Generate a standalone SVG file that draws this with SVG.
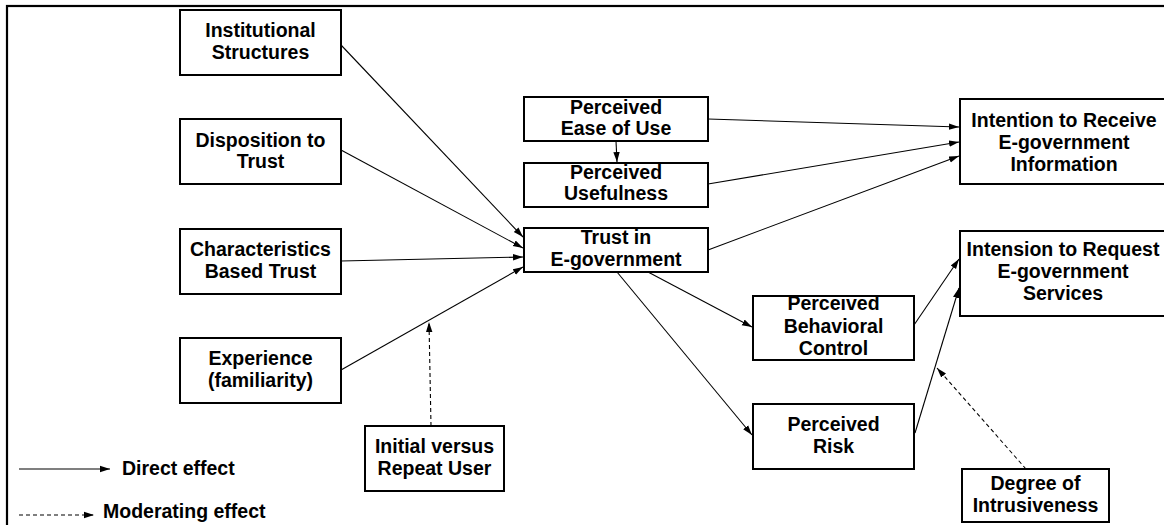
<svg xmlns="http://www.w3.org/2000/svg" width="1164" height="525" viewBox="0 0 1164 525">
<style>
.box{fill:#fff;stroke:#000;stroke-width:2}
.t{font-family:"Liberation Sans",Arial,sans-serif;font-weight:bold;font-size:19.5px;fill:#000;text-anchor:middle}
.lt{font-family:"Liberation Sans",Arial,sans-serif;font-weight:bold;font-size:19.5px;fill:#000}
.c{fill:none;stroke:#000;stroke-width:1.1;marker-end:url(#ah)}
.d{fill:none;stroke:#000;stroke-width:1.1;stroke-dasharray:4 3;marker-end:url(#ah)}
</style>
<defs>
<marker id="ah" markerUnits="userSpaceOnUse" markerWidth="10" markerHeight="8" viewBox="0 0 10 8" refX="10" refY="4" orient="auto">
<path d="M0,0.8 L10,4 L0,7.2 Z" fill="#000"/>
</marker>
</defs>
<rect x="0" y="0" width="1164" height="525" fill="#fff"/>
<rect x="7" y="6" width="1175" height="540" fill="none" stroke="#000" stroke-width="2.2"/>

<g id="connectors">
<path class="c" d="M341,45 L523,237"/>
<path class="c" d="M341,150 L523,248"/>
<path class="c" d="M341,261 L523,257"/>
<path class="c" d="M341,370 L523,267"/>
<path class="c" d="M708,119 L959,127"/>
<path class="c" d="M708,184 L959,142"/>
<path class="c" d="M708,250 L959,156"/>
<path class="c" d="M616,141 L617,162"/>
<path class="c" d="M648,272 L752,327"/>
<path class="c" d="M617,272 L752,435"/>
<path class="c" d="M914,325 L959,259"/>
<path class="c" d="M915,433 L959,288"/>
<path class="d" d="M1026,469 L937,368"/>
<path class="d" d="M431,426 L429,322"/>
<path class="c" d="M19,469 L110,469"/>
<path class="d" d="M19,515 L94,515"/>
</g>

<g id="institutional">
<rect class="box" x="180" y="10" width="161" height="65"/>
<text class="t" x="260.5" y="37">Institutional</text>
<text class="t" x="260.5" y="59">Structures</text>
</g>
<g id="disposition">
<rect class="box" x="180" y="119" width="161" height="65"/>
<text class="t" x="260.5" y="147">Disposition to</text>
<text class="t" x="260.5" y="168">Trust</text>
</g>
<g id="characteristics">
<rect class="box" x="180" y="229" width="161" height="65"/>
<text class="t" x="260.5" y="256">Characteristics</text>
<text class="t" x="260.5" y="278">Based Trust</text>
</g>
<g id="experience">
<rect class="box" x="180" y="338" width="161" height="65"/>
<text class="t" x="260.5" y="365">Experience</text>
<text class="t" x="260.5" y="387">(familiarity)</text>
</g>
<g id="ease">
<rect class="box" x="524" y="97" width="184" height="44"/>
<text class="t" x="616" y="114">Perceived</text>
<text class="t" x="616" y="135">Ease of Use</text>
</g>
<g id="usefulness">
<rect class="box" x="524" y="163" width="184" height="44"/>
<text class="t" x="616" y="179">Perceived</text>
<text class="t" x="616" y="200">Usefulness</text>
</g>
<g id="trust">
<rect class="box" x="524" y="228" width="184" height="44"/>
<text class="t" x="616" y="244">Trust in</text>
<text class="t" x="616" y="266">E-government</text>
</g>
<g id="receive">
<rect class="box" x="960" y="99" width="210" height="85"/>
<text class="t" x="1064" y="127">Intention to Receive</text>
<text class="t" x="1064" y="149">E-government</text>
<text class="t" x="1064" y="171">Information</text>
</g>
<g id="request">
<rect class="box" x="960" y="231" width="210" height="85"/>
<text class="t" x="1063" y="256">Intension to Request</text>
<text class="t" x="1063" y="278">E-government</text>
<text class="t" x="1063" y="300">Services</text>
</g>
<g id="pbc">
<rect class="box" x="753" y="296" width="161" height="64"/>
<text class="t" x="833.5" y="310">Perceived</text>
<text class="t" x="833.5" y="333">Behavioral</text>
<text class="t" x="833.5" y="355">Control</text>
</g>
<g id="risk">
<rect class="box" x="753" y="404" width="161" height="65"/>
<text class="t" x="833.5" y="431">Perceived</text>
<text class="t" x="833.5" y="453">Risk</text>
</g>
<g id="intrusiveness">
<rect class="box" x="962" y="469" width="147" height="53"/>
<text class="t" x="1035.5" y="490">Degree of</text>
<text class="t" x="1035.5" y="512">Intrusiveness</text>
</g>
<g id="user">
<rect class="box" x="365" y="426" width="139" height="65"/>
<text class="t" x="434.5" y="453">Initial versus</text>
<text class="t" x="434.5" y="475">Repeat User</text>
</g>
<g id="legend">
<text class="lt" x="122" y="475">Direct effect</text>
<text class="lt" x="103" y="518">Moderating effect</text>
</g>
</svg>
